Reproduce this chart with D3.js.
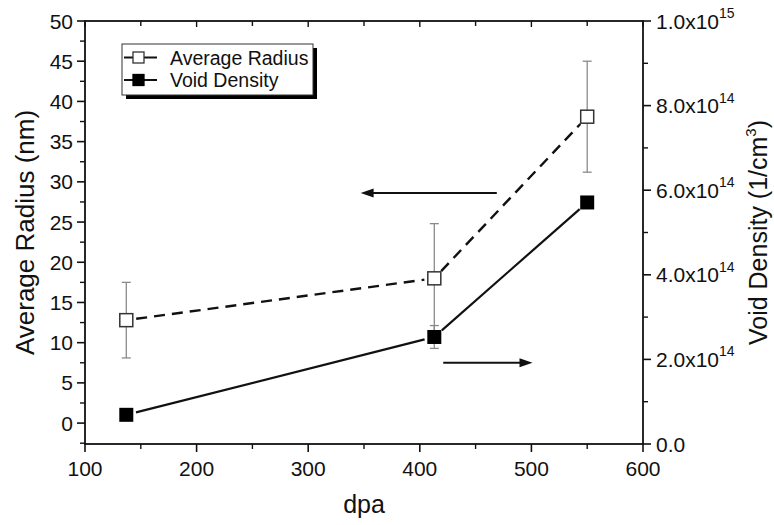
<!DOCTYPE html>
<html><head><meta charset="utf-8">
<script src="https://cdn.jsdelivr.net/npm/d3@7"></script>
<style>
body{margin:0;background:#fff}
text{font-family:"Liberation Sans",Arial,sans-serif;fill:#111}
</style>
</head><body>
<svg id="c" width="774" height="525"></svg>
<script>
// ---- data ----
const dpa = [137, 413, 550];
const radius = [12.8, 18.0, 38.1];
const radiusErr = [4.7, 6.8, 6.9];
const density = [6.9e13, 2.53e14, 5.71e14];
const densityErr = [0, 2.7e13, 0];
const seriesNames = ["Average Radius", "Void Density"];
const xTicks = [100, 200, 300, 400, 500, 600];
const leftTicks = [0, 5, 10, 15, 20, 25, 30, 35, 40, 45, 50];
const rightTicks = [0, 2e14, 4e14, 6e14, 8e14, 1e15];
const rightTickMant = ["0.0", "2.0x10", "4.0x10", "6.0x10", "8.0x10", "1.0x10"];
const rightTickExp = ["", "14", "14", "14", "14", "15"];
// arrows: [x start, x end, y on left axis]
const arrowFrom = [469, 421];
const arrowTo = [347, 501];
const arrowY = [28.6, 7.5];

// ---- layout ----
const L = 85, R = 643, T = 21, B = 444;
const svg = d3.select("#c");
const x = d3.scaleLinear().domain([100, 600]).range([L, R]);
const yL = d3.scaleLinear().domain([-2.6, 50]).range([B, T]);
const yR = d3.scaleLinear().domain([0, 1e15]).range([B, T]);
const ink = "#111";
const tickFont = 21;

// frame
const g = svg.append("g");
g.append("rect").attr("x", L).attr("y", T).attr("width", R - L).attr("height", B - T)
  .attr("fill", "none").attr("stroke", ink).attr("stroke-width", 1.8);

// bottom ticks (outward) & top ticks (inward)
const xMinor = d3.range(150, 600, 100);
xTicks.forEach(v => {
  g.append("line").attr("x1", x(v)).attr("x2", x(v)).attr("y1", B).attr("y2", B + 8).attr("stroke", ink).attr("stroke-width", 1.6);
  g.append("line").attr("x1", x(v)).attr("x2", x(v)).attr("y1", T).attr("y2", T + 6).attr("stroke", ink).attr("stroke-width", 1.4);
  g.append("text").attr("x", x(v)).attr("y", 476).attr("text-anchor", "middle").attr("font-size", tickFont).text(v);
});
xMinor.forEach(v => {
  g.append("line").attr("x1", x(v)).attr("x2", x(v)).attr("y1", B).attr("y2", B + 5).attr("stroke", ink).attr("stroke-width", 1.4);
  g.append("line").attr("x1", x(v)).attr("x2", x(v)).attr("y1", T).attr("y2", T + 5).attr("stroke", ink).attr("stroke-width", 1.4);
});

// left ticks
const lMinor = d3.range(-2.5, 50, 5);
leftTicks.forEach(v => {
  g.append("line").attr("x1", L - 8).attr("x2", L).attr("y1", yL(v)).attr("y2", yL(v)).attr("stroke", ink).attr("stroke-width", 1.6);
  g.append("text").attr("x", L - 12).attr("y", yL(v)).attr("dy", "0.36em").attr("text-anchor", "end").attr("font-size", tickFont).text(v);
});
lMinor.forEach(v => {
  g.append("line").attr("x1", L - 5).attr("x2", L).attr("y1", yL(v)).attr("y2", yL(v)).attr("stroke", ink).attr("stroke-width", 1.4);
});

// right ticks
const rMinor = d3.range(1e14, 1e15, 2e14);
rightTicks.forEach((v, i) => {
  g.append("line").attr("x1", R).attr("x2", R + 8).attr("y1", yR(v)).attr("y2", yR(v)).attr("stroke", ink).attr("stroke-width", 1.6);
  const t = g.append("text").attr("x", R + 13).attr("y", yR(v)).attr("dy", "0.36em").attr("font-size", tickFont);
  t.append("tspan").text(rightTickMant[i]);
  if (rightTickExp[i]) t.append("tspan").attr("font-size", 14).attr("dy", "-0.75em").text(rightTickExp[i]);
});
rMinor.forEach(v => {
  g.append("line").attr("x1", R).attr("x2", R + 5).attr("y1", yR(v)).attr("y2", yR(v)).attr("stroke", ink).attr("stroke-width", 1.4);
});

// axis titles
svg.append("text").attr("x", (L + R) / 2).attr("y", 513).attr("text-anchor", "middle").attr("font-size", 25).text("dpa");
svg.append("text").attr("transform", `translate(34,${(T + B) / 2}) rotate(-90)`).attr("text-anchor", "middle").attr("font-size", 26).text("Average Radius (nm)");
const rt = svg.append("text").attr("transform", `translate(767,${(T + B) / 2}) rotate(-90)`).attr("text-anchor", "middle").attr("font-size", 25);
rt.append("tspan").text("Void Density (1/cm");
rt.append("tspan").attr("font-size", 15).attr("dy", "-0.75em").text("3");
rt.append("tspan").attr("dy", "0.45em").text(")");

// helper: segments with gap at markers
function segs(xs, ys, gap) {
  const out = [];
  for (let i = 0; i < xs.length - 1; i++) {
    const x1 = xs[i], y1 = ys[i], x2 = xs[i + 1], y2 = ys[i + 1];
    const len = Math.hypot(x2 - x1, y2 - y1), ux = (x2 - x1) / len, uy = (y2 - y1) / len;
    out.push([x1 + ux * gap, y1 + uy * gap, x2 - ux * gap, y2 - uy * gap]);
  }
  return out;
}
const px = dpa.map(d => x(d));
const pyR = radius.map(d => yL(d));
const pyD = density.map(d => yR(d));

// error bars
const errC = "#8a8a8a";
function errbar(cx, lo, hi) {
  g.append("line").attr("x1", cx).attr("x2", cx).attr("y1", lo).attr("y2", hi).attr("stroke", errC).attr("stroke-width", 1.3);
  [lo, hi].forEach(yy => g.append("line").attr("x1", cx - 4.5).attr("x2", cx + 4.5).attr("y1", yy).attr("y2", yy).attr("stroke", errC).attr("stroke-width", 1.3));
}
dpa.forEach((d, i) => errbar(x(d), yL(radius[i] - radiusErr[i]), yL(radius[i] + radiusErr[i])));
dpa.forEach((d, i) => { if (densityErr[i] > 0) errbar(x(d), yR(density[i] - densityErr[i]), yR(density[i] + densityErr[i])); });

// lines
segs(px, pyR, 10).forEach(s => g.append("line").attr("x1", s[0]).attr("y1", s[1]).attr("x2", s[2]).attr("y2", s[3])
  .attr("stroke", ink).attr("stroke-width", 2.4).attr("stroke-dasharray", "11,7"));
segs(px, pyD, 10).forEach(s => g.append("line").attr("x1", s[0]).attr("y1", s[1]).attr("x2", s[2]).attr("y2", s[3])
  .attr("stroke", ink).attr("stroke-width", 2.2));

// markers
const ms = 13;
dpa.forEach((d, i) => g.append("rect").attr("x", x(d) - ms / 2).attr("y", yL(radius[i]) - ms / 2).attr("width", ms).attr("height", ms)
  .attr("fill", "#fff").attr("stroke", "#333").attr("stroke-width", 1.5));
dpa.forEach((d, i) => g.append("rect").attr("x", x(d) - 7).attr("y", yR(density[i]) - 7).attr("width", 14).attr("height", 14).attr("fill", "#000"));

// arrows
arrowFrom.forEach((a, i) => {
  const x1 = x(a), x2 = x(arrowTo[i]), yy = yL(arrowY[i]);
  const dir = Math.sign(x2 - x1);
  g.append("line").attr("x1", x1).attr("x2", x2 - dir * 10).attr("y1", yy).attr("y2", yy).attr("stroke", ink).attr("stroke-width", 2);
  g.append("path").attr("d", `M${x2},${yy} L${x2 - dir * 13},${yy - 4.5} L${x2 - dir * 13},${yy + 4.5} Z`).attr("fill", ink);
});

// legend
const lg = svg.append("g");
lg.append("rect").attr("x", 126).attr("y", 48).attr("width", 191).attr("height", 51).attr("fill", "#000");
lg.append("rect").attr("x", 122).attr("y", 44).attr("width", 191).attr("height", 51).attr("fill", "#fff").attr("stroke", "#333").attr("stroke-width", 1);
const rowY = [57.5, 80];
seriesNames.forEach((n, i) => {
  const yy = rowY[i];
  lg.append("line").attr("x1", 124).attr("x2", 157).attr("y1", yy).attr("y2", yy).attr("stroke", ink).attr("stroke-width", 2.2);
  lg.append("rect").attr("x", 133).attr("y", yy - 5.5).attr("width", 11).attr("height", 11)
    .attr("fill", i === 0 ? "#fff" : "#000").attr("stroke", i === 0 ? "#333" : "#000").attr("stroke-width", 1.3);
  lg.append("text").attr("x", 170).attr("y", yy).attr("dy", "0.36em").attr("font-size", 19.5).text(n);
});
</script>
</body></html>
